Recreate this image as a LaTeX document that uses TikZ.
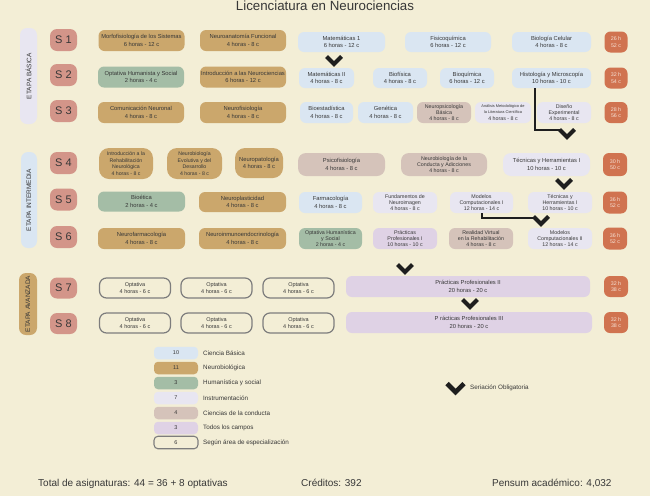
\documentclass[tikz,border=0pt]{standalone}
\usepackage{fontspec}
\setmainfont{Liberation Sans}
\definecolor{cbg}{RGB}{243,238,214}
\definecolor{cblue}{RGB}{218,230,242}
\definecolor{ctan}{RGB}{203,167,108}
\definecolor{cgreen}{RGB}{164,189,166}
\definecolor{clav}{RGB}{232,230,241}
\definecolor{ccond}{RGB}{213,195,186}
\definecolor{cpur}{RGB}{223,210,229}
\definecolor{csal}{RGB}{211,149,137}
\definecolor{chrs}{RGB}{208,115,80}
\definecolor{cgray}{RGB}{125,125,125}
\definecolor{txt}{RGB}{55,55,55}
\definecolor{htxt}{RGB}{246,226,214}
\definecolor{cchev}{RGB}{30,30,30}
\newcommand{\fszA}{\fontsize{5.8}{7.6}\selectfont}
\newcommand{\fszB}{\fontsize{5.3}{6.1}\selectfont}
\newcommand{\fszD}{\fontsize{5.2}{6.7}\selectfont}
\newcommand{\fszT}{\fontsize{3.9}{6.1}\selectfont}
\newcommand{\fszO}{\fontsize{5.5}{6.3}\selectfont}
\newcommand{\fszH}{\fontsize{5.3}{6.7}\selectfont}
\newcommand{\fszS}{\fontsize{11}{13}\selectfont}
\newcommand{\fszE}{\fontsize{6.5}{8}\selectfont}
\newcommand{\fszL}{\fontsize{6.3}{8}\selectfont}
\tikzset{
  sz/.style 2 args={minimum width=#1pt, minimum height=#2pt},
  crs/.style={rectangle, rounded corners=6pt, inner sep=0pt, align=center, text=txt, font=\fszA},
  bBlu/.style={crs, fill=cblue},
  bTan/.style={crs, fill=ctan},
  bGrn/.style={crs, fill=cgreen},
  bLav/.style={crs, fill=clav},
  bCond/.style={crs, fill=ccond},
  bPur/.style={crs, fill=cpur},
  bOpt/.style={crs, draw=cgray, line width=1.2pt, rounded corners=7pt, font=\fszO},
  sem/.style={rectangle, rounded corners=7pt, fill=csal, inner sep=0pt, font=\fszS, text=txt, minimum width=27pt, minimum height=22pt},
  hrs/.style={rectangle, rounded corners=6pt, fill=chrs, inner sep=0pt, align=center, font=\fszH, text=htxt, minimum width=23pt, minimum height=21pt},
  etapa/.style={rectangle, rounded corners=7pt, inner sep=0pt, rotate=90, font=\fszE, text=txt},
  lsw/.style={rectangle, rounded corners=4pt, inner sep=0pt, minimum width=44pt, minimum height=12.5pt, font=\fszO, text=txt},
  ltx/.style={anchor=west, inner sep=0pt, font=\fszL, text=txt},
  conn/.style={draw=cchev, line width=1.4pt},
  chev/.pic={\draw[line width=4.2pt, line join=miter, color=cchev] (-7.5,-4.5) -- (0,3) -- (7.5,-4.5);},
  bigchev/.pic={\draw[line width=4.6pt, line join=miter, color=cchev] (-8.5,-5) -- (0,3.5) -- (8.5,-5);},
  foot/.style={anchor=base west, inner sep=0pt, font=\fontsize{10}{12}\selectfont, text=txt}
}
\begin{document}
\begin{tikzpicture}[x=1pt,y=-1pt]
\useasboundingbox (0,0) rectangle (650,496);
\fill[cbg] (0,0) rectangle (650,496);

\node[anchor=base, inner sep=0pt, font=\fontsize{13.3}{15}\selectfont, text=txt] (title) at (325,10.8) {Licenciatura en Neurociencias};

% etapas
\node[etapa, fill=clav, minimum width=96pt, minimum height=17pt] (eb) at (28.5,76) {ETAPA BÁSICA};
\node[etapa, fill=cblue, minimum width=96pt, minimum height=16pt] (ei) at (29,200) {ETAPA INTERMEDIA};
\node[etapa, fill=ctan, minimum width=62pt, minimum height=18pt] (ea) at (28,304) {ETAPA AVANZADA};

% Row 1
\node[sem] (s1) at (63.5,40) {S 1};
\node[bTan, sz={86}{21}] (morfo) at (141.5,40.5) {Morfofisiología de los Sistemas\\6 horas - 12 c};
\node[bTan, sz={86}{21}] (nanat) at (243,40.5) {Neuroanatomía Funcional\\4 horas - 8 c};
\node[bBlu, sz={87}{20}] (mat1) at (341.5,42) {Matemáticas 1\\6 horas - 12 c};
\node[bBlu, sz={86}{20}] (fisq) at (448,42) {Fisicoquímica\\6 horas - 12 c};
\node[bBlu, sz={79}{20}] (biocel) at (551.5,42) {Biología Celular\\4 horas - 8 c};
\node[hrs] (h1) at (616,42) {26 h\\52 c};

% Row 2
\node[sem] (s2) at (63.5,75) {S 2};
\node[bGrn, sz={86}{21}] (opths) at (141,77) {Optativa Humanista y Social\\2 horas - 4 c};
\node[bTan, sz={86}{21}] (intro) at (243,77) {Introducción a las Neurociencias\\6 horas - 12 c};
\node[bBlu, sz={55}{20}] (mat2) at (326.5,78) {Matemáticas II\\4 horas - 8 c};
\node[bBlu, sz={54}{20}] (biofis) at (400,78) {Biofísica\\4 horas - 8 c};
\node[bBlu, sz={54}{20}] (bioq) at (467,78) {Bioquímica\\6 horas - 12 c};
\node[bBlu, sz={79}{20}] (histo) at (551.5,78) {Histología y Microscopía\\10 horas - 10 c};
\node[hrs] (h2) at (616,78) {32 h\\54 c};

% Row 3
\node[sem] (s3) at (63.5,111) {S 3};
\node[bTan, sz={86}{21}] (comun) at (141,112.5) {Comunicación Neuronal\\4 horas - 8 c};
\node[bTan, sz={86}{21}] (nfis) at (243,112.5) {Neurofisiología\\4 horas - 8 c};
\node[bBlu, sz={53}{21}] (bioest) at (326.5,112.5) {Bioestadística\\4 horas - 8 c};
\node[bBlu, sz={55}{21}] (genet) at (385.5,112.5) {Genética\\4 horas - 8 c};
\node[bCond, sz={54}{21}, font=\fszB] (npsb) at (444,112.5) {Neuropsicología\\Básica\\4 horas - 8 c};
\node[bLav, sz={56}{21}, font=\fszB] (anal) at (503,112.5) {{\fszT Análisis Metodológico de}\\{\fszT la Literatura Científica}\\4 horas - 8 c};
\node[bLav, sz={54}{21}, font=\fszB] (diseno) at (564,112.5) {Diseño\\Experimental\\4 horas - 8 c};
\node[hrs] (h3) at (616,112.5) {28 h\\56 c};

% Row 4
\node[sem] (s4) at (63.5,163) {S 4};
\node[bTan, sz={54}{31}, rounded corners=10pt, font=\fszD] (irehab) at (126,163.5) {Introducción a la\\Rehabilitación\\Neurológica\\4 horas - 8 c};
\node[bTan, sz={55}{31}, rounded corners=10pt, font=\fszD] (nevol) at (194.5,163.5) {Neurobiología\\Evolutiva y del\\Desarrollo\\4 horas - 8 c};
\node[bTan, sz={48}{30}, rounded corners=10pt] (npat) at (259,163) {Neuropatología\\4 horas - 8 c};
\node[bCond, sz={87}{23}, rounded corners=8pt] (psico) at (341.5,164.5) {Psicofisiología\\4 horas - 8 c};
\node[bCond, sz={86}{23}, rounded corners=8pt, font=\fszB] (ncond) at (444,164.5) {Neurobiología de la\\Conducta y Adicciones\\4 horas - 8 c};
\node[bLav, sz={87}{23}, rounded corners=8pt] (tec1) at (546.5,164.5) {Técnicas y Herramientas I\\10 horas - 10 c};
\node[hrs, sz={24}{23}] (h4) at (615,164.5) {30 h\\50 c};

% Row 5
\node[sem] (s5) at (63.5,199.5) {S 5};
\node[bGrn, sz={87}{20}] (bioet) at (141.5,201.5) {Bioética\\2 horas - 4 c};
\node[bTan, sz={87}{20}] (nplast) at (242.5,202) {Neuroplasticidad\\4 horas - 8 c};
\node[bBlu, sz={63}{21}] (farma) at (330.5,202.5) {Farmacología\\4 horas - 8 c};
\node[bLav, sz={64}{21}, font=\fszB] (fneuro) at (405,202.5) {Fundamentos de\\Neuroimagen\\4 horas - 8 c};
\node[bLav, sz={63}{21}, font=\fszB] (mc1) at (481.5,202.5) {Modelos\\Computacionales I\\12 horas - 14 c};
\node[bLav, sz={64}{21}, font=\fszB] (tec2) at (560,202.5) {Técnicas y\\Herramientas I\\10 horas - 10 c};
\node[hrs, sz={24}{22}] (h5) at (615,202.5) {36 h\\52 c};

% Row 6
\node[sem] (s6) at (63.5,237) {S 6};
\node[bTan, sz={87}{21}] (nfarm) at (141.5,238.5) {Neurofarmacología\\4 horas - 8 c};
\node[bTan, sz={87}{21}] (ninm) at (242.5,238.5) {Neuroinmunoendocrinología\\4 horas - 8 c};
\node[bGrn, sz={63}{21}, font=\fszB] (opths2) at (330.5,238.5) {Optativa Humanística\\y Social\\2 horas - 4 c};
\node[bPur, sz={64}{21}, font=\fszB] (pp1) at (405,238.5) {Prácticas\\Profesionales I\\10 horas - 10 c};
\node[bCond, sz={64}{21}, font=\fszB] (rv) at (481,238.5) {Realidad Virtual\\en la Rehabilitación\\4 horas - 8 c};
\node[bLav, sz={64}{21}, font=\fszB] (mc2) at (560,238.5) {Modelos\\Computacionales II\\12 horas - 14 c};
\node[hrs, sz={24}{22}] (h6) at (615,238.5) {36 h\\52 c};

% Row 7
\node[sem, minimum height=21pt] (s7) at (63.5,288) {S 7};
\node[bOpt, sz={71}{20}] (o71) at (135,288) {Optativa\\4 horas - 6 c};
\node[bOpt, sz={71}{20}] (o72) at (216.5,288) {Optativa\\4 horas - 6 c};
\node[bOpt, sz={71}{20}] (o73) at (298.5,288) {Optativa\\4 horas - 6 c};
\node[bPur, sz={244}{21}] (pp2) at (468,286.5) {Prácticas Profesionales II\\20 horas - 20 c};
\node[hrs, sz={24}{21}] (h7) at (616,286.5) {32 h\\38 c};

% Row 8
\node[sem, minimum height=21pt] (s8) at (63.5,323.5) {S 8};
\node[bOpt, sz={71}{20}] (o81) at (135,323) {Optativa\\4 horas - 6 c};
\node[bOpt, sz={71}{20}] (o82) at (216.5,323) {Optativa\\4 horas - 6 c};
\node[bOpt, sz={71}{20}] (o83) at (298.5,323) {Optativa\\4 horas - 6 c};
\node[bPur, sz={246}{21}] (pp3) at (469,322.5) {P rácticas Profesionales III\\20 horas - 20 c};
\node[hrs, sz={24}{21}] (h8) at (616,322.5) {32 h\\38 c};

% seriation marks
\pic at (334,61) {chev};
\coordinate (k1) at (535,130);
\coordinate (k1e) at (560,130);
\draw[conn] (histo.south -| k1) -- (k1) -- (k1e);
\pic at (567,134) {chev};
\pic at (564,184) {chev};
\coordinate (k2) at (482,218);
\coordinate (k2e) at (537,218);
\draw[conn] (mc1.south -| k2) -- (k2) -- (k2e);
\pic at (541,221) {chev};
\pic at (405,269) {chev};
\pic at (470,304) {chev};

% legend
\node[lsw, fill=cblue] (lg1) at (176,353) {10};
\node[lsw, fill=ctan] (lg2) at (176,368) {11};
\node[lsw, fill=cgreen] (lg3) at (176,383) {3};
\node[lsw, fill=clav] (lg4) at (176,398) {7};
\node[lsw, fill=ccond] (lg5) at (176,413) {4};
\node[lsw, fill=cpur] (lg6) at (176,428) {3};
\node[lsw, draw=cgray, line width=1.1pt] (lg7) at (176,442.5) {6};
\node[ltx] (lt1) at (203,353) {Ciencia Básica};
\node[ltx] (lt2) at (203,368) {Neurobiológica};
\node[ltx] (lt3) at (203,383) {Humanística y social};
\node[ltx] (lt4) at (203,398) {Instrumentación};
\node[ltx] (lt5) at (203,413) {Ciencias de la conducta};
\node[ltx] (lt6) at (203,428) {Todos los campos};
\node[ltx] (lt7) at (203,442.5) {Según área de especialización};
\pic at (455.5,388.5) {bigchev};
\node[ltx] (lser) at (470,388) {Seriación Obligatoria};

% footer
\node[foot] (f1) at (38,486) {Total de asignaturas: 44 = 36 + 8 optativas};
\node[foot] (f2) at (301,486) {Créditos: 392};
\node[foot] (f3) at (492,486) {Pensum académico: 4,032};
\end{tikzpicture}
\end{document}
